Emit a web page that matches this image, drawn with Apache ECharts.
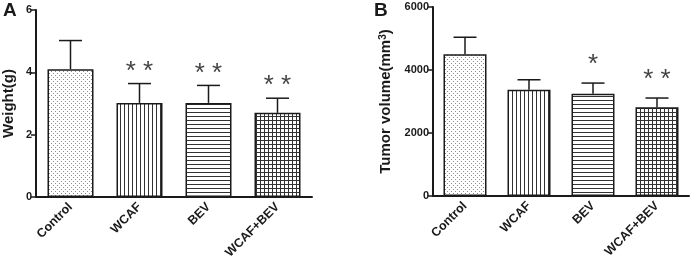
<!DOCTYPE html>
<html>
<head>
<meta charset="utf-8">
<script src="https://cdn.jsdelivr.net/npm/echarts@6/dist/echarts.min.js"></script>
<style>
  html, body { margin: 0; padding: 0; background: #fff; }
  #chart { width: 692px; height: 274px; }
</style>
</head>
<body>
<div id="chart"></div>
<script>
// Data
const categories = ['Control', 'WCAF', 'BEV', 'WCAF+BEV'];

const weightMean = [4.1, 3.02, 3.02, 2.7];
const weightUpper = [5.02, 3.64, 3.58, 3.17];
const weightSig = ['', '**', '**', '**'];
const weightTicks = [0, 2, 4, 6];

const volumeMean = [4500, 3370, 3245, 2820];
const volumeUpper = [5040, 3690, 3585, 3110];
const volumeSig = ['', '', '*', '**'];
const volumeTicks = [0, 2000, 4000, 6000];

const FONT = 'Liberation Sans, Arial, sans-serif';
const INK = '#1a1a1a';

// Fill patterns for the four groups
function makePattern(kind) {
    const c = document.createElement('canvas');
    const s = 4;
    c.width = s; c.height = s;
    const g = c.getContext('2d');
    g.fillStyle = '#fff';
    g.fillRect(0, 0, s, s);
    g.fillStyle = '#333';
    if (kind === 'dots') {
        g.fillStyle = '#8a8a8a';
        g.fillRect(1, 1, 1, 1);
        g.fillRect(3, 3, 1, 1);
    } else if (kind === 'vert') {
        g.fillRect(0, 0, 1, s);
    } else if (kind === 'horiz') {
        g.fillRect(0, 0, s, 1);
    } else {
        g.fillRect(0, 0, 1, s);
        g.fillRect(0, 0, s, 1);
    }
    return { image: c, repeat: 'repeat' };
}
const patterns = [makePattern('dots'), makePattern('vert'), makePattern('horiz'), makePattern('grid')];

function barData(values) {
    return values.map((v, i) => ({
        value: v,
        itemStyle: { color: patterns[i] }
    }));
}

function errorData(means, uppers) {
    return means.map((m, i) => [i, m, uppers[i]]);
}

const errorSigs = { errA: weightSig, errB: volumeSig };

// upper whisker + cap, with significance stars above it
function errorRender(starGap) {
    return function(params, api) {
        const x = api.value(0);
        const top = api.coord([x, api.value(1)]);
        const up = api.coord([x, api.value(2)]);
        const label = errorSigs[params.seriesName][params.dataIndex];
        const half = 11.5;
        const style = { stroke: INK, lineWidth: 1.5 };
        const children = [
            { type: 'line', shape: { x1: top[0], y1: top[1], x2: up[0], y2: up[1] }, style: style },
            { type: 'line', shape: { x1: up[0] - half, y1: up[1], x2: up[0] + half, y2: up[1] }, style: style }
        ];
        if (label) {
            children.push({
                type: 'text',
                style: {
                    text: label.split('').join(' '),
                    x: up[0],
                    y: up[1] - starGap,
                    align: 'center',
                    verticalAlign: 'middle',
                    font: '26px ' + FONT,
                    fill: '#444'
                }
            });
        }
        return { type: 'group', children: children };
    };
}

function catAxis(gridIndex) {
    return {
        type: 'category',
        gridIndex: gridIndex,
        data: categories,
        axisLine: { lineStyle: { color: INK, width: 2 } },
        axisTick: { alignWithLabel: true, length: 6, lineStyle: { color: INK, width: 1.5 } },
        axisLabel: {
            rotate: 45, margin: 8, color: INK,
            fontFamily: FONT, fontWeight: 'bold', fontSize: 12.5
        }
    };
}

function valAxis(gridIndex, ticks, name, gap) {
    return {
        type: 'value',
        gridIndex: gridIndex,
        min: ticks[0],
        max: ticks[ticks.length - 1],
        interval: ticks[1] - ticks[0],
        name: name,
        nameLocation: 'middle',
        nameGap: gap,
        nameTextStyle: {
            color: INK, fontFamily: FONT, fontWeight: 'bold', fontSize: 15,
            rich: {
                a: { color: INK, fontFamily: FONT, fontWeight: 'bold', fontSize: 15 },
                s: { color: INK, fontFamily: FONT, fontWeight: 'bold', fontSize: 10, verticalAlign: 'top', lineHeight: 15 }
            }
        },
        axisLine: { show: true, lineStyle: { color: INK, width: 2 } },
        axisTick: { show: true, length: 5, lineStyle: { color: INK, width: 1.5 } },
        axisLabel: {
            color: INK, fontFamily: FONT, fontWeight: 'bold', fontSize: 11, margin: 4,
            formatter: v => String(v)
        },
        splitLine: { show: false }
    };
}

const chart = echarts.init(document.getElementById('chart'), null, { renderer: 'canvas' });

const option = {
    animation: false,
    backgroundColor: '#fff',
    grid: [
        { left: 36, top: 10, width: 276, height: 187 },
        { left: 433, top: 7, width: 256, height: 189 }
    ],
    xAxis: [catAxis(0), catAxis(1)],
    yAxis: [
        valAxis(0, weightTicks, 'Weight(g)', 20),
        valAxis(1, volumeTicks, '{a|Tumor volume(mm}{s|3}{a|)}', 40)
    ],
    graphic: [
        { type: 'text', left: 3, top: 1, style: { text: 'A', font: 'bold 19px ' + FONT, fill: INK } },
        { type: 'text', left: 374, top: 1, style: { text: 'B', font: 'bold 19px ' + FONT, fill: INK } }
    ],
    series: [
        {
            type: 'bar', xAxisIndex: 0, yAxisIndex: 0,
            data: barData(weightMean), barWidth: 46,
            itemStyle: { borderColor: INK, borderWidth: 1.5 }
        },
        {
            type: 'custom', name: 'errA', xAxisIndex: 0, yAxisIndex: 0,
            data: errorData(weightMean, weightUpper),
            renderItem: errorRender(12), z: 5
        },
        {
            type: 'bar', xAxisIndex: 1, yAxisIndex: 1,
            data: barData(volumeMean), barWidth: 43,
            itemStyle: { borderColor: INK, borderWidth: 1.5 }
        },
        {
            type: 'custom', name: 'errB', xAxisIndex: 1, yAxisIndex: 1,
            data: errorData(volumeMean, volumeUpper),
            renderItem: errorRender(18), z: 5
        }
    ]
};

chart.setOption(option);
</script>
</body>
</html>
